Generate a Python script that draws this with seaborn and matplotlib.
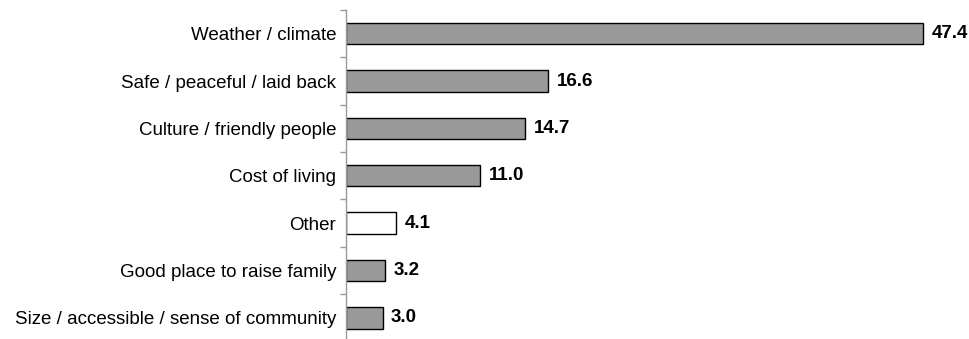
import matplotlib
matplotlib.use("Agg")
import matplotlib.pyplot as plt
import seaborn as sns
import pandas as pd
import numpy as np

reasons = [
    "Weather / climate",
    "Safe / peaceful / laid back",
    "Culture / friendly people",
    "Cost of living",
    "Other",
    "Good place to raise family",
    "Size / accessible / sense of community",
]
percents = [47.4, 16.6, 14.7, 11.0, 4.1, 3.2, 3.0]
fills = ["#999999", "#999999", "#999999", "#999999", "#ffffff", "#999999", "#999999"]

df = pd.DataFrame({"reason": reasons, "percent": percents})

sns.set_theme(style="white")
plt.rcParams["font.family"] = ["Liberation Sans", "DejaVu Sans"]

fig = plt.figure(figsize=(9.70, 3.39), dpi=100)
ax = fig.add_axes([346 / 970, -0.0075, 608.6 / 970, 0.9780])

sns.barplot(data=df, x="percent", y="reason", order=reasons, hue="reason",
            palette=fills, legend=False, width=0.45, edgecolor="black",
            linewidth=1.0, ax=ax, saturation=1)

for i, v in enumerate(percents):
    ax.text(v + 0.7, i, f"{v:.1f}", va="center", ha="left",
            fontsize=13.5, fontweight="bold", color="black")

ax.set_xlim(0, 50)
ax.set_ylim(6.5, -0.5)
ax.set_xlabel("")
ax.set_ylabel("")
ax.set_xticks([])

for side in ("top", "right", "bottom"):
    ax.spines[side].set_visible(False)
ax.spines["left"].set_color("#999999")
ax.spines["left"].set_linewidth(1.0)

ax.tick_params(axis="y", which="major", length=0, pad=7, labelsize=13.5,
               labelcolor="black")
ax.set_yticks(np.arange(-0.5, len(reasons), 1.0), minor=True)
ax.tick_params(axis="y", which="minor", length=4, width=1.0,
               color="#999999", direction="out", left=True)

fig.savefig("out.png", dpi=100)
